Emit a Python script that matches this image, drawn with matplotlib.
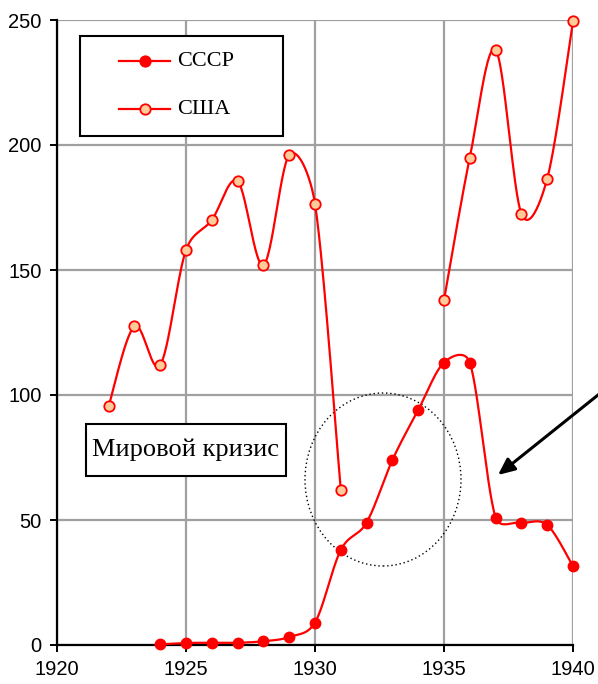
"""
Производство: СССР и США, 1920-1940
"""

import numpy as np
import matplotlib
matplotlib.use("Agg")
import matplotlib.pyplot as plt
from matplotlib.patches import Rectangle, Ellipse
from matplotlib.lines import Line2D

# data
years_usa_a = [1922, 1923, 1924, 1925, 1926, 1927, 1928, 1929, 1930, 1931]
usa_a = [95.5, 127.5, 112, 158, 170, 185.5, 152, 196, 176.5, 62]
years_usa_b = [1935, 1936, 1937, 1938, 1939, 1940]
usa_b = [138, 195, 238, 172.5, 186.5, 249.5]

years_ussr = [1924, 1925, 1926, 1927, 1928, 1929, 1930, 1931, 1932,
              1933, 1934, 1935, 1936, 1937, 1938, 1939, 1940]
ussr = [0.3, 0.8, 0.9, 0.9, 1.5, 3.2, 9.0, 38, 49, 74, 94, 113, 113,
        51, 49, 48, 31.5]

x_ticks = [1920, 1925, 1930, 1935, 1940]
y_ticks = [0, 50, 100, 150, 200, 250]
labels = ["СССР", "США"]
crisis_label = "Мировой кризис"

RED = "#FF0000"
TAN = "#FFCC99"
GRID = "#A0A0A0"
SERIF = "Liberation Serif"

# screen scale used for smoothing (px per year, px per unit)
SX, SY = 25.8, 2.5


def smooth(xs, ys, n=30):
    """Excel-like smoothed line: bezier arms 1/6, capped at half segment"""
    p = np.column_stack([np.array(xs) * SX, np.array(ys) * SY]).astype(float)
    p = np.vstack([p[0], p, p[-1]])
    out = []
    t = np.linspace(0, 1, n)[:, None]
    for i in range(1, len(p) - 2):
        p0, p1, p2, p3 = p[i - 1], p[i], p[i + 1], p[i + 2]
        d12 = np.hypot(*(p2 - p1))
        d02 = np.hypot(*(p2 - p0))
        d13 = np.hypot(*(p3 - p1))
        a1 = (p2 - p0) / 6 if d02 / 6 < d12 / 2 else (p2 - p0) * d12 / 2 / d02
        a2 = (p3 - p1) / 6 if d13 / 6 < d12 / 2 else (p3 - p1) * d12 / 2 / d13
        c1, c2 = p1 + a1, p2 - a2
        seg = ((1 - t) ** 3 * p1 + 3 * (1 - t) ** 2 * t * c1
               + 3 * (1 - t) * t ** 2 * c2 + t ** 3 * p2)
        out.append(seg if i == 1 else seg[1:])
    s = np.vstack(out)
    return s[:, 0] / SX, s[:, 1] / SY


fig = plt.figure(figsize=(5.98, 6.84), dpi=100)
# axes: x 57..573 px, y 20..645 px
ax = fig.add_axes([57 / 598, 39 / 684, 516 / 598, 625 / 684])


def px(x, y):
    # pixel -> axes fraction
    return (x - 57) / 516, (645 - y) / 625


ax.set_xlim(1920, 1940)
ax.set_ylim(0, 250)
ax.set_xticks(x_ticks)
ax.set_yticks(y_ticks)
ax.grid(True, color=GRID, lw=1.6)
ax.set_axisbelow(True)
for side in ["top", "right"]:
    ax.spines[side].set_visible(False)
for side in ["left", "bottom"]:
    ax.spines[side].set_linewidth(1.6)
ax.tick_params(direction="out", length=5, width=1.4, labelsize=14.5)
ax.tick_params(axis="y", pad=6)
ax.tick_params(axis="x", pad=6)
for lab in ax.get_xticklabels() + ax.get_yticklabels():
    lab.set_fontfamily("Liberation Sans")

LW = 1.6
mk = dict(marker="o", markersize=7.5, lw=0)
for xs, ys in [(years_usa_a, usa_a), (years_usa_b, usa_b)]:
    sx, sy = smooth(xs, ys)
    ax.plot(sx, sy, color=RED, lw=LW, clip_on=False, zorder=3)
    ax.plot(xs, ys, markerfacecolor=TAN, markeredgecolor=RED,
            markeredgewidth=1.3, clip_on=False, zorder=4, **mk)

sx, sy = smooth(years_ussr, ussr)
ax.plot(sx, sy, color=RED, lw=LW, clip_on=False, zorder=3)
ax.plot(years_ussr, ussr, color=RED, clip_on=False, zorder=4, **mk)

# legend drawn by hand
x0, y0 = px(80, 136)
x1, y1 = px(283, 36)
ax.add_patch(Rectangle((x0, y0), x1 - x0, y1 - y0, transform=ax.transAxes,
                       facecolor="white", edgecolor="black", lw=1.5,
                       zorder=5))
for yy, lab, fc in [(61, labels[0], RED), (109, labels[1], TAN)]:
    la, ya = px(119, yy)
    lb, _ = px(170, yy)
    ax.add_line(Line2D([la, lb], [ya, ya], transform=ax.transAxes,
                       color=RED, lw=LW, zorder=6))
    mx, _ = px(144.5, yy)
    ax.add_line(Line2D([mx], [ya], transform=ax.transAxes, marker="o",
                       markersize=7.5, markerfacecolor=fc,
                       markeredgecolor=RED, markeredgewidth=1.3, zorder=7))
    tx, _ = px(177, yy)
    ax.text(tx, ya, lab, transform=ax.transAxes, fontsize=16,
            family=SERIF, va="center", ha="left", zorder=7)

# crisis box
x0, y0 = px(86, 476)
x1, y1 = px(286, 424)
ax.add_patch(Rectangle((x0, y0), x1 - x0, y1 - y0, transform=ax.transAxes,
                       facecolor="white", edgecolor="black", lw=1.5,
                       zorder=5))
ax.text((x0 + x1) / 2, (y0 + y1) / 2, crisis_label, transform=ax.transAxes,
        fontsize=19, family=SERIF, ha="center", va="center", zorder=6)

# dotted circle around the crisis years
cx, cy = px(383, 479.5)
w, _ = px(57 + 156, 0)
ax.add_patch(Ellipse((cx, cy), w, 173 / 625, transform=ax.transAxes,
                     fill=False, edgecolor="black", lw=1.0,
                     linestyle=(0, (1, 2)), zorder=2))

# arrow coming from the right edge
tx, ty = px(498, 475)
sx0, sy0 = px(603, 391)
ax.annotate("", xy=(tx, ty), xycoords="axes fraction",
            xytext=(sx0, sy0), textcoords="axes fraction",
            arrowprops=dict(arrowstyle="-|>,head_length=1.0,head_width=0.45",
                            color="black", lw=2.2, shrinkA=0, shrinkB=0),
            annotation_clip=False, zorder=6)

fig.savefig("out.png", dpi=100)
